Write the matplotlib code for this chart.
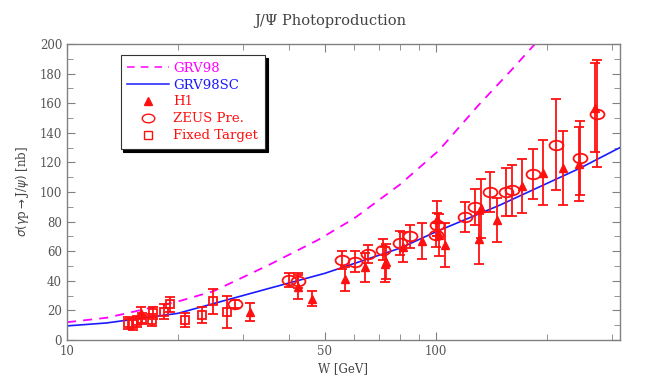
import numpy as np
import matplotlib
matplotlib.use("Agg")
import matplotlib.pyplot as plt
from matplotlib.lines import Line2D
from matplotlib.path import Path
from matplotlib.transforms import Affine2D
from matplotlib.ticker import FixedLocator, NullFormatter

# theory curves
grv98_w = [10, 12.8, 14.5, 20, 25, 35.5, 47.9, 60, 80, 102, 130, 160, 186, 200]
grv98_s = [12, 15, 18, 26, 33, 51, 67.5, 82, 105, 128, 158, 182, 200, 212]
grv98sc_w = [10, 12.8, 20, 35.5, 50, 80, 100, 149, 246, 316.2]
grv98sc_s = [9.5, 11.5, 18, 35, 45, 62, 73, 91, 116, 130]

# H1
h1_w = [15.9, 31.3, 42.2, 46.3, 56.7, 64.5, 73, 73.5, 81.6, 92, 101, 102, 106,
        131, 133, 147, 172, 196, 222, 245, 271]
h1_s = [18, 19, 36, 28, 41, 49, 51, 53, 63, 67, 82, 71, 64,
        68, 89, 81, 104, 113, 116, 119, 157]
h1_e = [4, 6, 8, 5, 8, 10, 12, 12, 10, 12, 12, 14, 15,
        17, 20, 15, 18, 22, 25, 25, 30]

# ZEUS preliminary
zeus_w = [28.5, 40.1, 42.2, 55.6, 60.4, 65.5, 71.9, 79.8, 85, 100, 100.6,
          120, 128, 140, 155, 161, 184, 212, 246, 274]
zeus_s = [24.3, 40.5, 40, 54, 53, 58, 61, 65.5, 70, 71, 78,
          83, 90, 100, 100, 101, 112, 132, 123, 153]
zeus_e = [3, 5, 5, 6, 7, 6, 7, 8, 8, 8, 8,
          10, 12, 13.5, 16, 17, 17, 31, 25, 36]

# fixed target
ft_w = [14.6, 15.1, 15.5, 16.0, 17.0, 17.1, 18.3, 19.0, 20.9, 23.2, 24.9, 27.1]
ft_s = [11.5, 11, 12.5, 14.5, 13.5, 18, 19, 24, 13.5, 17, 26, 19]
ft_e = [4, 4, 4, 4, 4, 4, 5, 5, 4.5, 5.4, 8.5, 11]

red = "#ff1010"
gray = "#808080"
plt.rcParams["font.family"] = ["DejaVu Serif"]

ellipse = Path.unit_circle().transformed(Affine2D().scale(1.45, 1.0))

fig = plt.figure(figsize=(6.54, 3.82), dpi=100)
ax = fig.add_axes([0.1024, 0.110, 0.8456, 0.775])

ax.plot(grv98_w, grv98_s, color="#ff00ff", ls=(0, (5, 4)), lw=1.3, label="GRV98")
ax.plot(grv98sc_w, grv98sc_s, color="#1a1aff", lw=1.2, label="GRV98SC")

ebkw = dict(ls="none", ecolor=red, elinewidth=1.3, capsize=3.6, capthick=1.3,
            color=red)
ax.errorbar(ft_w, ft_s, yerr=ft_e, marker="s", ms=6, mfc="none", mew=1.3, **ebkw)
ax.errorbar(zeus_w, zeus_s, yerr=zeus_e, marker=ellipse, ms=10, mfc="none", mew=1.3, **ebkw)
ax.errorbar(h1_w, h1_s, yerr=h1_e, marker="^", ms=5.5, **ebkw)

ax.set_xscale("log")
ax.set_xlim(10, 316.2)
ax.set_ylim(0, 200)
ax.xaxis.set_major_locator(FixedLocator([10, 50, 100]))
ax.xaxis.set_minor_locator(FixedLocator([20, 30, 40, 60, 70, 80, 90, 200, 300]))
ax.xaxis.set_minor_formatter(NullFormatter())
ax.set_xticklabels(["10", "50", "100"])
ax.set_yticks(np.arange(0, 201, 20))
ax.set_yticks(np.arange(0, 201, 10), minor=True)

for s in ax.spines.values():
    s.set_color(gray)
    s.set_linewidth(1.0)
ax.tick_params(which="both", direction="in", top=True, right=True, colors=gray,
               labelcolor="#555555", labelsize=8.5)
ax.tick_params(which="major", length=6)
ax.tick_params(which="minor", length=4)

ax.set_xlabel("W [GeV]", fontsize=8.5, color="#444444", labelpad=3)
ax.set_ylabel(r"$\sigma(\gamma$p$\rightarrow$J/$\psi)$ [nb]", fontsize=8.5,
              color="#444444", labelpad=6)
fig.text(0.505, 0.945, "J/\u03a8 Photoproduction", ha="center", va="center",
         fontsize=10.5, color="#444444")

handles = [
    Line2D([], [], color="#ff00ff", ls=(0, (5, 4)), lw=1.1),
    Line2D([], [], color="#1a1aff", lw=1.1),
    Line2D([], [], color=red, marker="^", ls="none", ms=6),
    Line2D([], [], color=red, marker=ellipse, ls="none", ms=9, mfc="none"),
    Line2D([], [], color=red, marker="s", ls="none", ms=5.5, mfc="none"),
]
labels = ["GRV98", "GRV98SC", "H1", "ZEUS Pre.", "Fixed Target"]
leg = ax.legend(handles, labels, loc="upper left", bbox_to_anchor=(0.085, 0.985),
                fontsize=9.5, handlelength=3.2, handletextpad=0.3, labelspacing=0.3,
                fancybox=False, shadow=dict(color="black", alpha=1),
                edgecolor="#333333", framealpha=1, borderpad=0.5)
leg.get_frame().set_linewidth(0.8)
for t, c in zip(leg.get_texts(), ["#ff00ff", "#1a1aff", red, red, red]):
    t.set_color(c)

fig.savefig("out.png", dpi=100)
